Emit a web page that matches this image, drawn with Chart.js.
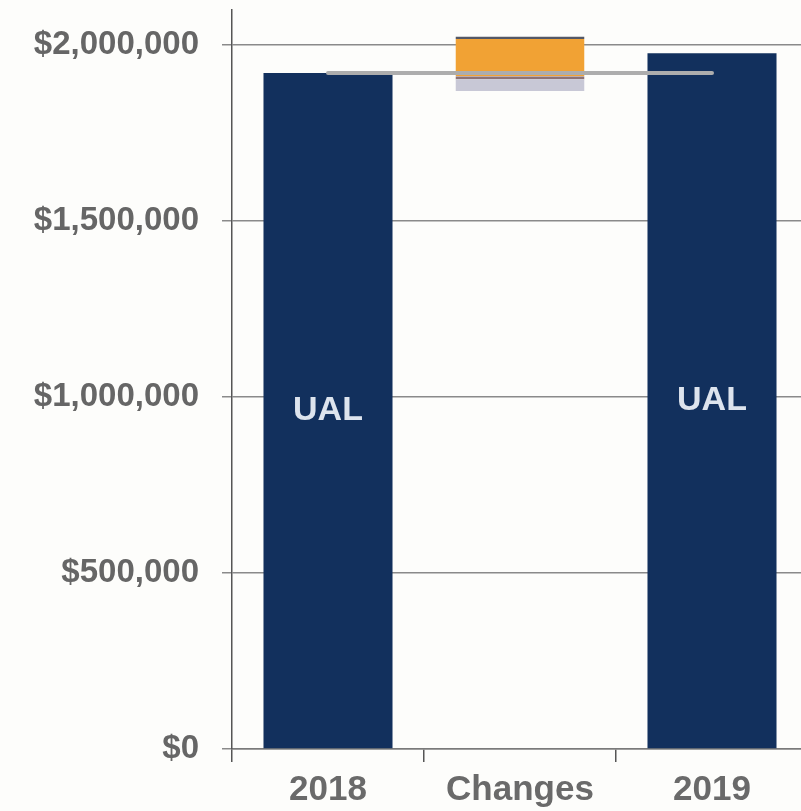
<!DOCTYPE html>
<html>
<head>
<meta charset="utf-8">
<title>UAL 2018 to 2019</title>
<script src="https://cdn.jsdelivr.net/npm/chart.js@4/dist/chart.umd.min.js"></script>
<style>
  html, body { margin: 0; padding: 0; background: #fdfdfb; overflow: hidden; }
  #wrap { width: 808px; height: 811px; }
</style>
</head>
<body>
<div id="wrap"><canvas id="ualChart" width="808" height="811"></canvas></div>
<script>
// categories and values for the waterfall
const categories = ['2018', 'Changes', '2019'];
const ualValues = [1921000, null, 1977000];
const increaseRange = [null, [1912000, 2025000], null];
const decreaseRange = [null, [1870000, 1912000], null];
const priorLevel = [1921000, 1921000, 1921000];
const barNames = ['UAL', null, 'UAL'];
const yTickValues = [0, 500000, 1000000, 1500000, 2000000];

const fontFamily = "'Liberation Sans', Arial, sans-serif";

// writes "UAL" in the middle of each full bar
const barTextPlugin = {
  id: 'barText',
  afterDatasetsDraw(chart) {
    const ctx = chart.ctx;
    const meta = chart.getDatasetMeta(1);
    ctx.save();
    ctx.fillStyle = '#dde4ee';
    ctx.font = 'bold 34px ' + fontFamily;
    ctx.textAlign = 'center';
    ctx.textBaseline = 'middle';
    meta.data.forEach((bar, i) => {
      if (!barNames[i] || ualValues[i] == null) return;
      ctx.fillText(barNames[i], bar.x, (bar.y + bar.base) / 2);
    });
    ctx.restore();
  }
};

const ctx = document.getElementById('ualChart');
const ualChart = new Chart(ctx, {
  type: 'bar',
  data: {
    labels: categories,
    datasets: [
      {
        type: 'line',
        label: '2018 level',
        data: priorLevel,
        borderColor: '#adadad',
        borderWidth: 4,
        pointRadius: 0,
        borderCapStyle: 'round',
        order: 0
      },
      {
        label: 'UAL',
        data: ualValues,
        backgroundColor: '#12305d',
        grouped: false,
        barPercentage: 0.672,
        categoryPercentage: 1,
        order: 1
      },
      {
        label: 'Increase',
        data: increaseRange,
        backgroundColor: '#f1a234',
        borderColor: '#545866',
        borderWidth: { top: 2.5, right: 0, bottom: 0, left: 0 },
        borderSkipped: false,
        grouped: false,
        barPercentage: 0.672,
        categoryPercentage: 1,
        order: 1
      },
      {
        label: 'Decrease',
        data: decreaseRange,
        backgroundColor: '#c8c8d6',
        borderColor: '#8c7276',
        borderWidth: { top: 3, right: 0, bottom: 0, left: 0 },
        borderSkipped: false,
        grouped: false,
        barPercentage: 0.672,
        categoryPercentage: 1,
        order: 1
      }
    ]
  },
  options: {
    responsive: false,
    animation: false,
    devicePixelRatio: 1,
    layout: { padding: { top: 10, right: 0, bottom: 0, left: 0 } },
    plugins: {
      legend: { display: false },
      tooltip: { enabled: false }
    },
    scales: {
      x: {
        offset: true,
        grid: {
          offset: true,
          drawOnChartArea: false,
          drawTicks: true,
          tickLength: 13,
          color: '#555',
          lineWidth: 1.5
        },
        border: { color: '#7a7a7a', width: 1.5 },
        ticks: {
          color: '#6a6a6a',
          font: { family: fontFamily, size: 35, weight: 'bold' },
          padding: 7
        },
        afterFit(scale) {
          scale.height = 62;
          scale.paddingLeft = 0;
          scale.paddingRight = 0;
        }
      },
      y: {
        min: 0,
        max: 2100000,
        grid: {
          color: '#8a8a8a',
          lineWidth: 1.5,
          tickLength: 10
        },
        border: { color: '#555', width: 1.5 },
        ticks: {
          color: '#666',
          padding: 23,
          font: { family: fontFamily, size: 33, weight: 'bold' },
          callback: v => '$' + v.toLocaleString('en-US')
        },
        afterBuildTicks(scale) {
          scale.ticks = yTickValues.map(v => ({ value: v }));
        },
        afterFit(scale) {
          scale.width = 232;
          scale.paddingTop = 0;
          scale.paddingBottom = 0;
        }
      }
    }
  },
  plugins: [barTextPlugin]
});
</script>
</body>
</html>
